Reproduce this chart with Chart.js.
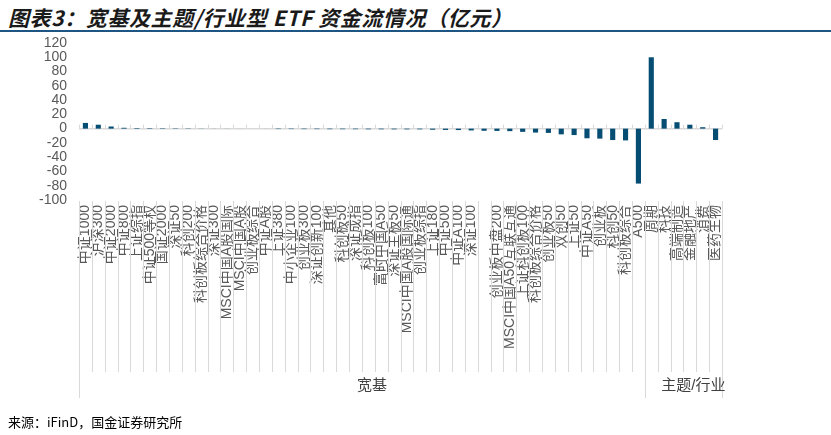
<!DOCTYPE html>
<html>
<head>
<meta charset="utf-8">
<script src="https://cdn.jsdelivr.net/npm/chart.js@4.4.1/dist/chart.umd.min.js"></script>
<style>
  html, body { margin: 0; padding: 0; background: #fff; }
  #wrap { position: relative; width: 831px; height: 435px; overflow: hidden; }
  #title {
    position: absolute; left: 8px; top: 2px;
    font: italic bold 21px "Noto Sans CJK SC", sans-serif;
    letter-spacing: 0.6px;
    color: #1a1a1a; white-space: nowrap;
  }
  #rule { position: absolute; left: 0; top: 30px; width: 831px; height: 2px; background: #1f5582; }
  #note {
    position: absolute; left: 8px; top: 412px;
    font: 13px "Noto Sans CJK SC", sans-serif; color: #000; white-space: nowrap;
  }
  canvas { position: absolute; left: 0; top: 0; }
</style>
</head>
<body>
<div id="wrap">
  <div id="title">图表3：宽基及主题/行业型 ETF 资金流情况（亿元）</div>
  <div id="rule"></div>
  <canvas id="flowChart" width="831" height="435"></canvas>
  <div id="note">来源：iFinD，国金证券研究所</div>
</div>
<script>
// categories, broad-based first, then theme/industry
const broadNames = [
  '中证1000', '沪深300', '中证2000', '中证800', '上证综指', '中证500等权', '国证2000', '深证50',
  '科创200', '科创板综合价格', '深证300', 'MSCI中国A股国际', 'MSCI中国A股', '创业板综合', '中证A股',
  '上证380', '中小企业100', '创业板300', '深证创新100', '其他', '科创板50', '深证成指', '科创板100',
  '富时中国A50', '深证主板50', 'MSCI中国A股国际通', '创业板综指', '上证180', '中证500', '中证A100',
  '深证100', '', '创业板中盘200', 'MSCI中国A50互联互通', '上证科创板100', '科创板综合价格', '创业板50',
  '双创50', '上证50', '中证A50', '创业板', '科创50', '科创板综合', 'A500'
];
const themeNames = ['周期', '科技', '高端制造', '金融地产', '消费', '医药生物'];

// net flows (亿元)
const broadFlows = [
  8, 5.5, 3, 1.2, 0.8, 0.7, 0.6, 0.5,
  0.4, 0.2, 0.1, 0.1, 0.05, 0.02, -0.05,
  -0.6, -0.6, -0.7, -0.7, -0.8, -0.8, -0.8, -0.9,
  -0.9, -1, -1, -1, -1.5, -1.8, -2,
  -2.5, -3, -3.2, -3.5, -4.5, -5.5, -6,
  -8, -9, -13.5, -14, -16, -16.5, -77
];
const themeFlows = [100, 13.5, 9, 5.5, 2, -16];

const groupNames = ['宽基', '主题/行业'];
const groupSizes = [broadNames.length, themeNames.length];

const yMin = -100, yMax = 120, yStep = 20;

const labels = broadNames.concat(themeNames);
const flows = broadFlows.concat(themeFlows);

const lineGrey = '#d9d9d9';

// zero line with ticks, category separators under the plot, group captions
const decoPlugin = {
    id: 'deco',
    beforeDatasetsDraw(chart) {
        const ctx = chart.ctx;
        const area = chart.chartArea;
        const y0 = chart.scales.y.getPixelForValue(0);
        const n = labels.length;
        const w = (area.right - area.left) / n;
        ctx.save();
        ctx.strokeStyle = lineGrey;
        ctx.lineWidth = 1.5;
        ctx.beginPath();
        ctx.moveTo(area.left, y0);
        ctx.lineTo(area.right, y0);
        ctx.stroke();
        ctx.lineWidth = 1;
        ctx.beginPath();
        for (let i = 0; i <= n; i++) {
            const x = Math.round(area.left + i * w) + 0.5;
            ctx.moveTo(x, y0);
            ctx.lineTo(x, y0 - 4);
        }
        ctx.stroke();
        ctx.restore();
    },
    afterDraw(chart) {
        const ctx = chart.ctx;
        const area = chart.chartArea;
        const n = labels.length;
        const w = (area.right - area.left) / n;

        // group edges
        const edges = [0];
        groupSizes.forEach(s => edges.push(edges[edges.length - 1] + s));

        ctx.save();
        ctx.strokeStyle = lineGrey;
        ctx.lineWidth = 1;
        ctx.beginPath();
        for (let i = 0; i <= n; i++) {
            const x = Math.round(area.left + i * w) + 0.5;
            const isEdge = edges.includes(i);
            ctx.moveTo(x, area.bottom + 1);
            ctx.lineTo(x, isEdge ? 398 : 372);
        }
        ctx.stroke();

        ctx.fillStyle = '#404040';
        ctx.font = '15px "Liberation Sans", "Noto Sans CJK SC", sans-serif';
        ctx.textAlign = 'center';
        ctx.textBaseline = 'middle';
        groupNames.forEach((g, k) => {
            const xa = area.left + edges[k] * w;
            const xb = area.left + edges[k + 1] * w;
            ctx.fillText(g, (xa + xb) / 2 + 10, 386);
        });
        ctx.restore();
    }
};

new Chart(document.getElementById('flowChart'), {
    type: 'bar',
    data: {
        labels: labels,
        datasets: [{
            data: flows,
            backgroundColor: '#064d74',
            borderWidth: 0,
            barPercentage: 0.4,
            categoryPercentage: 1
        }]
    },
    options: {
        responsive: false,
        animation: false,
        devicePixelRatio: 1,
        layout: { padding: { top: 43, right: 109, bottom: 0, left: 0 } },
        plugins: {
            legend: { display: false },
            tooltip: { enabled: false }
        },
        scales: {
            x: {
                afterFit: s => { s.height = 235; },
                grid: { display: false, drawTicks: false },
                border: { display: false },
                ticks: {
                    autoSkip: false,
                    maxRotation: 90,
                    minRotation: 90,
                    padding: 5,
                    color: '#595959',
                    font: { size: 14, family: '"Liberation Sans", "Noto Sans CJK SC", sans-serif' }
                }
            },
            y: {
                min: yMin,
                max: yMax,
                afterFit: s => { s.width = 79; },
                grid: { display: false, drawTicks: false },
                border: { display: false },
                ticks: {
                    autoSkip: false,
                    stepSize: yStep,
                    padding: 12,
                    color: '#595959',
                    font: { size: 14, family: '"Liberation Sans", sans-serif' }
                }
            }
        }
    },
    plugins: [decoPlugin]
});
</script>
</body>
</html>
